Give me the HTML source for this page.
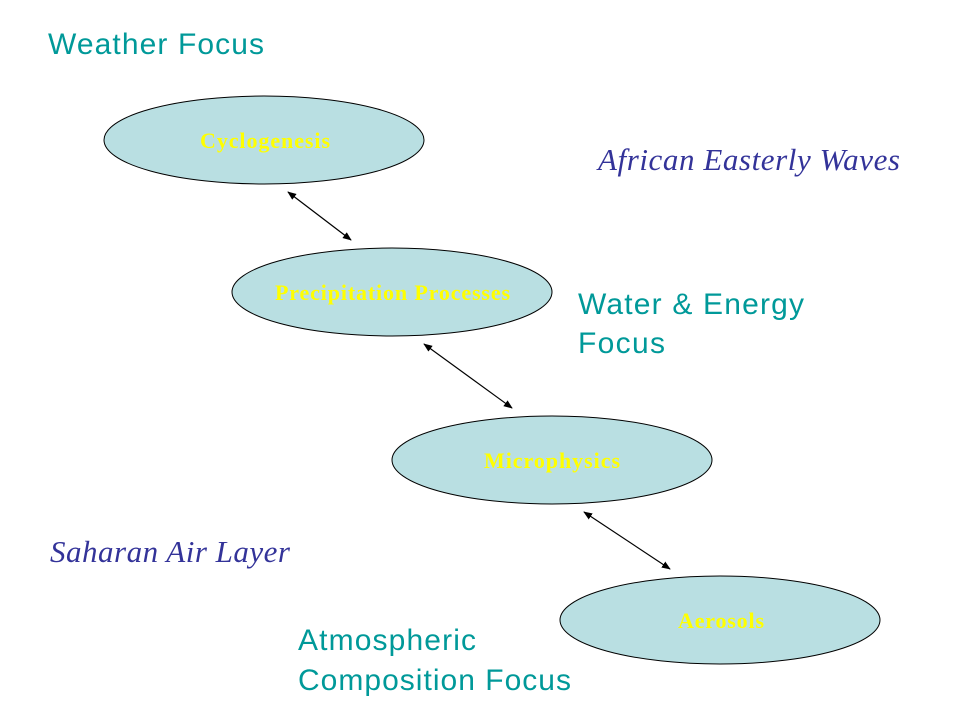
<!DOCTYPE html>
<html><head><meta charset="utf-8"><style>html,body{margin:0;padding:0;background:#fff;width:960px;height:720px;overflow:hidden}</style></head>
<body>
<svg width="960" height="720" viewBox="0 0 960 720" xmlns="http://www.w3.org/2000/svg">
<defs>
<marker id="a" viewBox="0 0 10 10" refX="9" refY="5" markerWidth="9" markerHeight="9" markerUnits="userSpaceOnUse" orient="auto-start-reverse"><path d="M0,1 L10,5 L0,9 z" fill="#000"/></marker>
</defs>
<g fill="#b9dfe2" stroke="#000" stroke-width="1">
<ellipse cx="264" cy="140" rx="160" ry="44"/>
<ellipse cx="392" cy="292" rx="160" ry="44"/>
<ellipse cx="552" cy="460" rx="160" ry="44"/>
<ellipse cx="720" cy="620" rx="160" ry="44"/>
</g>
<g stroke="#000" stroke-width="1.2" marker-start="url(#a)" marker-end="url(#a)">
<line x1="288" y1="192" x2="351" y2="240"/>
<line x1="424" y1="344" x2="512" y2="408"/>
<line x1="584" y1="512" x2="670" y2="569"/>
</g>
<g font-family="Liberation Serif, serif" font-weight="bold" font-size="22" fill="#ffff00">
<text x="200" y="148" textLength="130">Cyclogenesis</text>
<text x="275" y="300" textLength="235">Precipitation Processes</text>
<text x="484" y="468" textLength="136">Microphysics</text>
<text x="678" y="628" textLength="86">Aerosols</text>
</g>
<g font-family="Liberation Sans, sans-serif" font-size="30" fill="#009999">
<text x="48" y="54" textLength="216">Weather Focus</text>
<text x="578" y="314" textLength="226">Water &amp; Energy</text>
<text x="578" y="353" textLength="87">Focus</text>
<text x="298" y="650" textLength="178">Atmospheric</text>
<text x="298" y="690" textLength="273">Composition Focus</text>
</g>
<g font-family="Liberation Serif, serif" font-style="italic" font-size="31" fill="#333399">
<text x="598" y="170" textLength="302">African Easterly Waves</text>
<text x="50" y="562" textLength="240">Saharan Air Layer</text>
</g>
</svg>
</body></html>
